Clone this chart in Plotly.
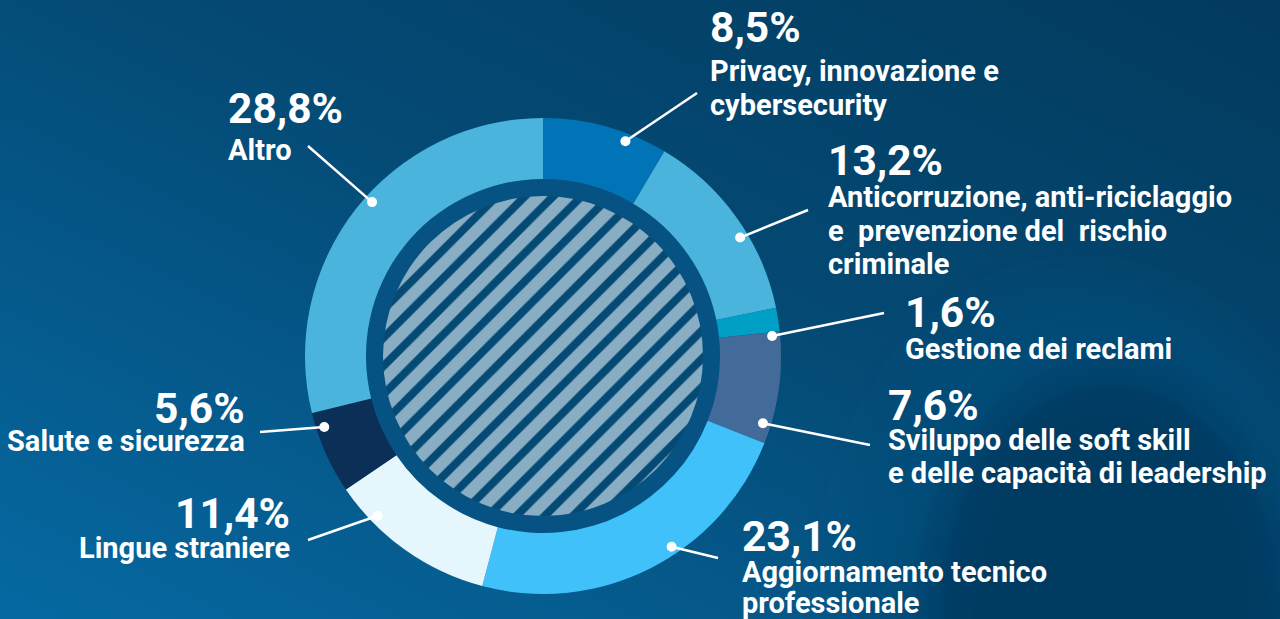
import base64
import math
import plotly.graph_objects as go

# ---------------- data ----------------
categories = [
    "Privacy, innovazione e cybersecurity",
    "Anticorruzione, anti-riciclaggio e prevenzione del rischio criminale",
    "Gestione dei reclami",
    "Sviluppo delle soft skill e delle capacità di leadership",
    "Aggiornamento tecnico professionale",
    "Lingue straniere",
    "Salute e sicurezza",
    "Altro",
]
values = [8.5, 13.2, 1.6, 7.6, 23.1, 11.4, 5.6, 28.8]
label_lines = [
    ["Privacy, innovazione e", "cybersecurity"],
    ["Anticorruzione, anti-riciclaggio", "e&nbsp; prevenzione del&nbsp; rischio", "criminale"],
    ["Gestione dei reclami"],
    ["Sviluppo delle soft skill", "e delle capacità di leadership"],
    ["Aggiornamento tecnico", "professionale"],
    ["Lingue straniere"],
    ["Salute e sicurezza"],
    ["Altro"],
]
colors = ["#0074b7", "#4ab4dc", "#009fc6", "#436b99", "#41c1fa", "#e6f6fd", "#0b2f57", "#4ab4dc"]

# ---------------- layout constants (pixels) ----------------
W, H = 1280, 619
CX, CY = 543, 356          # donut centre
R_OUT, R_IN = 238, 177     # ring radii
R_HATCH = 160              # hatched disc radius
R_DOT = 230                # radius of leader dots
DOT = 5                    # dot radius

# label placement: x, anchor, y of percentage, y of first text line, line gap,
# leader anchor angle (deg clockwise from 12 o'clock), leader end point
label_x = [708, 826, 903, 886, 740, 292, 247, 226]
label_anchor = ["left", "left", "left", "left", "left", "right", "right", "left"]
pct_y = [27, 160, 312, 405, 536, 513, 408, 108]
text_y0 = [71, 197, 349, 440, 572, 548, 441, 150]
line_gap = [34, 33.5, 33, 33, 31, 33, 33, 33]
anchor_deg = [21, 59, 85, 107, 146, 226, 252, 312]
leader_end = [(697, 93), (808, 210), (884, 313), (870, 445), (718, 558), (308, 540), (260, 432), (308, 146)]


def fmt(v):
    return f"{v:.1f}".replace(".", ",") + "%"


def dom(r):
    return dict(x=[(CX - r) / W, (CX + r) / W], y=[1 - (CY + r) / H, 1 - (CY - r) / H])


# ---------------- background ----------------
svg = f'''<svg xmlns="http://www.w3.org/2000/svg" width="{W}" height="{H}" viewBox="0 0 {W} {H}" preserveAspectRatio="none">
<defs>
<linearGradient id="g" x1="1" y1="0" x2="0" y2="1">
<stop offset="0" stop-color="#033a5d"/>
<stop offset="0.45" stop-color="#044a75"/>
<stop offset="1" stop-color="#0669a2"/>
</linearGradient>
<filter id="b" x="-50%" y="-50%" width="200%" height="200%"><feGaussianBlur stdDeviation="22"/></filter>
</defs>
<rect width="{W}" height="{H}" fill="url(#g)"/>
<g filter="url(#b)">
<ellipse cx="1085" cy="590" rx="235" ry="300" fill="#094d7b" opacity="0.7"/>
<ellipse cx="1110" cy="620" rx="185" ry="250" fill="#063a60" opacity="0.9"/>
</g>
</svg>'''
bg_src = "data:image/svg+xml;base64," + base64.b64encode(svg.encode("utf-8")).decode("ascii")

fig = go.Figure()

# dark disc behind the hatch (gap ring)
fig.add_trace(go.Pie(values=[1], marker=dict(colors=["#065383"]), domain=dom(R_IN),
                     textinfo="none", hoverinfo="skip", sort=False, showlegend=False))
# hatched disc
fig.add_trace(go.Pie(values=[1], domain=dom(R_HATCH),
                     marker=dict(colors=["#09598a"],
                                 pattern=dict(shape="/", fgcolor="#89aec4", size=20, solidity=0.6)),
                     textinfo="none", hoverinfo="skip", sort=False, showlegend=False))
# ring
fig.add_trace(go.Pie(labels=categories, values=values, hole=R_IN / R_OUT, domain=dom(R_OUT),
                     marker=dict(colors=colors, line=dict(width=0)),
                     sort=False, direction="clockwise", rotation=0,
                     textinfo="none", hoverinfo="label+percent", showlegend=False))

# invisible scatter so that the pixel axes exist
fig.add_trace(go.Scatter(x=[0, W], y=[0, H], mode="markers", marker=dict(opacity=0),
                         hoverinfo="skip", showlegend=False))

# leader lines and dots (drawn as shapes above the pies)
shapes = []
for i in range(len(values)):
    a = math.radians(anchor_deg[i])
    dx, dy = CX + R_DOT * math.sin(a), CY - R_DOT * math.cos(a)
    ex, ey = leader_end[i]
    shapes.append(dict(type="line", xref="x", yref="y", x0=dx, y0=dy, x1=ex, y1=ey,
                       line=dict(color="white", width=2.5), layer="above"))
    shapes.append(dict(type="circle", xref="x", yref="y", x0=dx - DOT, y0=dy - DOT, x1=dx + DOT, y1=dy + DOT,
                       fillcolor="white", line=dict(width=0), layer="above"))

annotations = []
for i, v in enumerate(values):
    annotations.append(dict(x=label_x[i], y=pct_y[i], xref="x", yref="y", text=fmt(v),
                            showarrow=False, xanchor=label_anchor[i], yanchor="middle",
                            font=dict(family="Roboto", size=42.5, color="white", weight=700)))
    for j, line in enumerate(label_lines[i]):
        annotations.append(dict(x=label_x[i], y=text_y0[i] + j * line_gap[i], xref="x", yref="y",
                                text=line, showarrow=False, xanchor=label_anchor[i], yanchor="middle",
                                font=dict(family="Roboto", size=29, color="white", weight=700)))

fig.update_layout(
    width=W, height=H, autosize=False,
    margin=dict(l=0, r=0, t=0, b=0, pad=0),
    paper_bgcolor="#044a75", plot_bgcolor="rgba(0,0,0,0)",
    xaxis=dict(range=[0, W], visible=False, fixedrange=True, domain=[0, 1]),
    yaxis=dict(range=[H, 0], visible=False, fixedrange=True, domain=[0, 1]),
    images=[dict(source=bg_src, xref="paper", yref="paper", x=0, y=1, sizex=1, sizey=1,
                 sizing="stretch", layer="below", xanchor="left", yanchor="top")],
    shapes=shapes,
    annotations=annotations,
    font=dict(family="Roboto"),
)

fig.write_html("out.html", config={"displayModeBar": False},
               post_script="document.body.style.margin='0';document.body.style.overflow='hidden';")
